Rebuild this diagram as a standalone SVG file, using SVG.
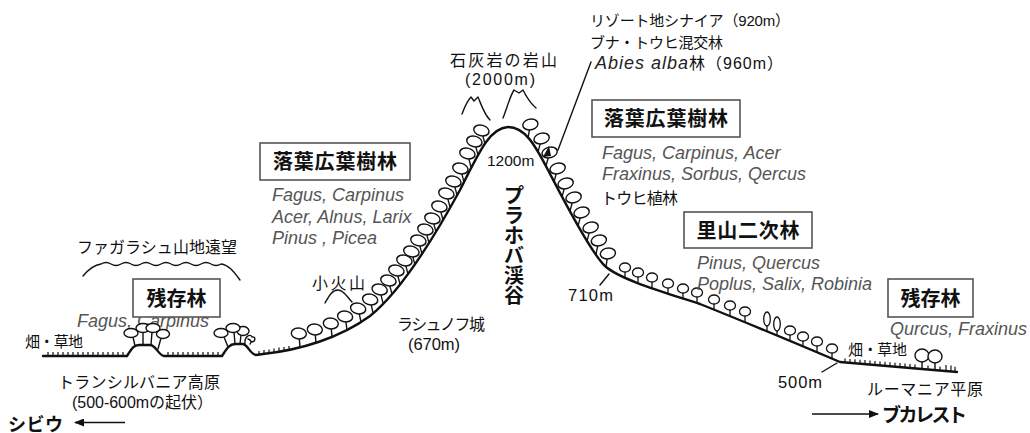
<svg xmlns="http://www.w3.org/2000/svg" width="1030" height="433" viewBox="0 0 1030 433">
<defs>
<style>
text{font-family:'Liberation Sans','Noto Sans CJK JP',sans-serif;fill:#111}
.jp{font-size:16px}
.ttl{font-size:20px;font-weight:bold}
.sp{font-size:18px;font-style:italic;fill:#555}
.box{fill:#fff;stroke:#555;stroke-width:1.6}
.gnd{fill:none;stroke:#111;stroke-width:2.4;stroke-linejoin:round;stroke-linecap:round}
.tick{fill:none;stroke:#111;stroke-width:1.2}
.thin{fill:none;stroke:#111;stroke-width:1.4;stroke-linecap:round;stroke-linejoin:round}
.ar{fill:none;stroke:#111;stroke-width:1.6}
</style>
<marker id="head" viewBox="0 0 10 8" refX="9" refY="4" markerWidth="10" markerHeight="8" markerUnits="userSpaceOnUse" orient="auto">
<path d="M0,0 L10,4 L0,8 Z" fill="#111"/>
</marker>
<!-- broadleaf tree, base at origin -->
<g id="tA">
<path d="M0,0 V-8" stroke="#111" stroke-width="1.4"/>
<ellipse cx="0" cy="-13.5" rx="7.5" ry="5.5" fill="#fff" stroke="#111" stroke-width="1.4"/>
</g>
<!-- small lowland tree -->
<g id="tB">
<path d="M0,0 V-6" stroke="#111" stroke-width="1.3"/>
<ellipse cx="0" cy="-10.5" rx="5.5" ry="4.5" fill="#fff" stroke="#111" stroke-width="1.3"/>
</g>
<!-- poplar -->
<g id="tC">
<path d="M0,0 V-5" stroke="#111" stroke-width="1.3"/>
<ellipse cx="0" cy="-12" rx="3.3" ry="7" fill="#fff" stroke="#111" stroke-width="1.3"/>
</g>
<!-- round remnant tree -->
<g id="tD">
<path d="M0,0 V-7" stroke="#111" stroke-width="1.4"/>
<ellipse cx="0" cy="-13.5" rx="7" ry="6.5" fill="#fff" stroke="#111" stroke-width="1.4"/>
</g>
</defs>

<rect width="1030" height="433" fill="#fff"/>

<!-- distant ranges and rock peaks -->
<g id="ranges">
<path class="thin" d="M83,276 C88,270 93,265 101,264 q5,-3 10,0 t10,0 t10,0 t10,0 t10,0 t10,0 t10,0 t10,0 t10,0 t10,0 t10,0 t10,0 C229,265 234,272 240,280"/>
<path class="thin" d="M462,114 C465,106 468,100 471,97 L474,101 L478,97 C481,104 484,114 490,120"/>
<path class="thin" d="M503,118 C507,108 510,96 514,90 L519,93 L523,90 C526,96 530,103 536,108"/>
<path class="thin" d="M325,303 C329,296 332,290 338,290 C344,290 347,297 352,302"/>
</g>

<!-- labels behind trees -->
<g id="labels-back">
<text class="sp" x="77" y="327">Fagus, Carpinus</text>
<text x="487" y="166" font-size="15.5">1200m</text>
</g>

<!-- ground profile -->
<g id="ground">
<path class="gnd" d="M43,356 L127,356 C131,350 133,345 139,345 L150,345 C156,345 158,355 164,356 L222,356 C226,350 229,344 235,344 L243,344 C248,345 250,354 256,355 L263,354 C300,350 340,338 370,316 C400,292 430,245 460,190 C480,150 490,128 508,127 C525,127 535,145 548,170 C561,195 590,252 605,266 C620,280 670,294 700,304 C740,320 800,345 840,362 L957,372"/>
<path class="tick" d="M48,356v-4M53,356v-4M58,356v-4M63,356v-4M68,356v-4M73,356v-4M78,356v-4M83,356v-4M88,356v-4M93,356v-4M98,356v-4M103,356v-4M108,356v-4M113,356v-4M118,356v-4M123,356v-4
M168,356v-4M173,356v-4M178,356v-4M183,356v-4M188,356v-4M193,356v-4M198,356v-4M203,356v-4M208,356v-4M213,356v-4M218,356v-4
M259,355v-4M264,354v-4M269,353.5v-4M274,352.5v-4M279,351.5v-4M284,351v-4M289,350v-4
M845,362.4v-4M850,362.9v-4M855,363.3v-4M860,363.7v-4M865,364.1v-4M870,364.6v-4M875,365v-4M880,365.4v-4M885,365.8v-4M890,366.3v-4M895,366.7v-4M900,367.1v-4M905,367.6v-4M910,368v-4M915,368.4v-4M928,369.5v-4M940,370.5v-4M946,371v-6M951,371.4v-6M955,371.8v-5"/>
<!-- elevation markers -->
<path class="thin" d="M600,285 L609,274"/>
<path class="thin" d="M822,372 L837,363"/>
</g>

<!-- forest cover -->
<g id="trees">
<!-- remnant clumps on the plateau -->
<path class="thin" d="M133,337 L135,346 M143,332 L143,345 M152,332 L151,345 M161,338 L158,349"/>
<ellipse cx="131" cy="333" rx="7" ry="4.5" fill="#fff" stroke="#111" stroke-width="1.4"/>
<ellipse cx="163" cy="334" rx="6.5" ry="4.5" fill="#fff" stroke="#111" stroke-width="1.4"/>
<ellipse cx="143" cy="328" rx="7" ry="4.5" fill="#fff" stroke="#111" stroke-width="1.4"/>
<ellipse cx="153" cy="328" rx="7" ry="4.5" fill="#fff" stroke="#111" stroke-width="1.4"/>
<path class="thin" d="M224,337 L228,347 M234,332 L235,344 M241,335 L240,344"/>
<ellipse cx="221" cy="333" rx="7" ry="4.5" fill="#fff" stroke="#111" stroke-width="1.4"/>
<ellipse cx="243" cy="331" rx="6" ry="4.5" fill="#fff" stroke="#111" stroke-width="1.4"/>
<ellipse cx="233" cy="328" rx="7" ry="4.5" fill="#fff" stroke="#111" stroke-width="1.4"/>
<path class="thin" d="M245,344 C244,337 250,333 252,337 C256,336 256,342 251,342 M248,339 C251,340 252,342 250,344"/>

<!-- western slope -->
<use href="#tA" transform="translate(300,347) skewX(5)"/>
<use href="#tA" transform="translate(316,343) skewX(5)"/>
<use href="#tA" transform="translate(332,337) skewX(5)"/>
<use href="#tA" transform="translate(347,330) skewX(8)"/>
<use href="#tA" transform="translate(361,322) skewX(12)"/>
<use href="#tA" transform="translate(373,313) skewX(12)"/>
<use href="#tA" transform="translate(383,303) skewX(14)"/>
<use href="#tA" transform="translate(392,294) skewX(15)"/>
<use href="#tA" transform="translate(400,284) skewX(15)"/>
<use href="#tA" transform="translate(408,274) skewX(15)"/>
<use href="#tA" transform="translate(415,265) skewX(15)"/>
<use href="#tA" transform="translate(422,254) skewX(15)"/>
<use href="#tA" transform="translate(429,243) skewX(15)"/>
<use href="#tA" transform="translate(436,232) skewX(15)"/>
<use href="#tA" transform="translate(443,220) skewX(15)"/>
<use href="#tA" transform="translate(450,207) skewX(15)"/>
<use href="#tA" transform="translate(457,195) skewX(15)"/>
<use href="#tA" transform="translate(464,182) skewX(15)"/>
<use href="#tA" transform="translate(471,167) skewX(15)"/>
<use href="#tA" transform="translate(478,155) skewX(15)"/>
<use href="#tA" transform="translate(485,144) skewX(15)"/>

<!-- eastern slope -->
<use href="#tA" transform="translate(528,138) skewX(-10)"/>
<use href="#tA" transform="translate(538,152) skewX(-15)"/>
<use href="#tA" transform="translate(546,166) skewX(-15)"/>
<use href="#tA" transform="translate(554,182) skewX(-15)"/>
<use href="#tA" transform="translate(562,197) skewX(-15)"/>
<use href="#tA" transform="translate(570,211) skewX(-15)"/>
<use href="#tA" transform="translate(578,226) skewX(-15)"/>
<use href="#tA" transform="translate(587,241) skewX(-15)"/>
<use href="#tA" transform="translate(596,254) skewX(-12)"/>
<use href="#tA" transform="translate(606,267) skewX(-8)"/>
<polygon points="543,157 551,156 549,146" fill="#111"/>

<!-- satoyama and lowland -->
<use href="#tB" x="625" y="278"/>
<use href="#tB" x="638" y="283"/>
<use href="#tB" x="652" y="288"/>
<use href="#tB" x="668" y="294"/>
<use href="#tB" x="683" y="299"/>
<use href="#tB" x="697" y="303"/>
<use href="#tB" x="714" y="310"/>
<use href="#tB" x="730" y="316"/>
<use href="#tB" x="745" y="322"/>
<use href="#tC" x="767" y="331"/>
<use href="#tC" x="777" y="336"/>
<use href="#tB" x="790" y="341"/>
<use href="#tB" x="803" y="347"/>
<use href="#tB" x="817" y="352"/>
<use href="#tB" x="832" y="359"/>
<use href="#tD" x="922" y="369"/>
<use href="#tD" x="935" y="370"/>
</g>

<!-- pointer and direction arrows -->
<g id="connectors">
<path class="thin" d="M591,62 L558,150"/>
<path class="ar" d="M125,422.5 L75,422.5" marker-end="url(#head)"/>
<path class="ar" d="M812,414 L878,414" marker-end="url(#head)"/>
</g>

<!-- vegetation zone boxes -->
<g id="zone-remnant-west">
<rect class="box" x="133" y="279" width="87" height="38"/>
<text class="ttl" x="176.5" y="305.5" text-anchor="middle" textLength="60">残存林</text>
</g>
<g id="zone-deciduous-west">
<rect class="box" x="260" y="143" width="150" height="37"/>
<text class="ttl" x="335" y="169" text-anchor="middle" textLength="124">落葉広葉樹林</text>
<text class="sp" x="272" y="201">Fagus, Carpinus</text>
<text class="sp" x="272" y="222.5">Acer, Alnus, Larix</text>
<text class="sp" x="272" y="243.5">Pinus , Picea</text>
</g>
<g id="zone-deciduous-east">
<rect class="box" x="592" y="100" width="148" height="37"/>
<text class="ttl" x="666" y="126" text-anchor="middle" textLength="124">落葉広葉樹林</text>
<text class="sp" x="602" y="158.5">Fagus, Carpinus, Acer</text>
<text class="sp" x="602" y="179.5">Fraxinus, Sorbus, Qercus</text>
<text class="jp" x="601" y="203.5" textLength="77">トウヒ植林</text>
</g>
<g id="zone-satoyama">
<rect class="box" x="684" y="212" width="128" height="36"/>
<text class="ttl" x="748" y="237.5" text-anchor="middle" textLength="103">里山二次林</text>
<text class="sp" x="697" y="268.5">Pinus, Quercus</text>
<text class="sp" x="697" y="289.5">Poplus, Salix, Robinia</text>
</g>
<g id="zone-remnant-east">
<rect class="box" x="888" y="279" width="85" height="38"/>
<text class="ttl" x="930.5" y="305.5" text-anchor="middle" textLength="60">残存林</text>
<text class="sp" x="890" y="335">Qurcus, Fraxinus</text>
</g>

<!-- place names and heights -->
<g id="places">
<text class="jp" x="450" y="66" textLength="107">石灰岩の岩山</text>
<text x="465" y="85" font-size="16" textLength="70">(2000m)</text>
<text class="jp" x="77" y="253" textLength="160">ファガラシュ山地遠望</text>
<text class="jp" x="312" y="289" textLength="53">小火山</text>
<text x="590" y="26" font-size="15" textLength="200">リゾート地シナイア（920m）</text>
<text x="590" y="48" font-size="15" textLength="133">ブナ・トウヒ混交林</text>
<text x="595" y="69" font-size="16" textLength="188"><tspan font-style="italic" font-size="18" fill="#222">Abies alba</tspan>林（960m）</text>
<text class="jp" x="397" y="330" textLength="88">ラシュノフ城</text>
<text x="408" y="350" font-size="16.5" textLength="52">(670m)</text>
<text x="568" y="301" font-size="16.5" textLength="45">710m</text>
<text x="778" y="388" font-size="16.5" textLength="44">500m</text>
<text x="25" y="347" font-size="15" textLength="58">畑・草地</text>
<text x="848" y="355" font-size="15" textLength="59">畑・草地</text>
<text class="jp" x="58" y="388" textLength="162">トランシルバニア高原</text>
<text class="jp" x="72" y="407.5" textLength="141">(500-600mの起伏）</text>
<text class="jp" x="867" y="394.5" textLength="116">ルーマニア平原</text>
<text x="8" y="431" font-size="18" font-weight="bold" textLength="55">シビウ</text>
<text x="882" y="422" font-size="19" font-weight="bold" textLength="85">ブカレスト</text>
<text font-size="20" font-weight="bold" text-anchor="middle"><tspan x="514" y="203">プ</tspan><tspan x="514" y="223">ラ</tspan><tspan x="514" y="243">ホ</tspan><tspan x="514" y="263">バ</tspan><tspan x="514" y="283">渓</tspan><tspan x="514" y="303">谷</tspan></text>
</g>
</svg>
